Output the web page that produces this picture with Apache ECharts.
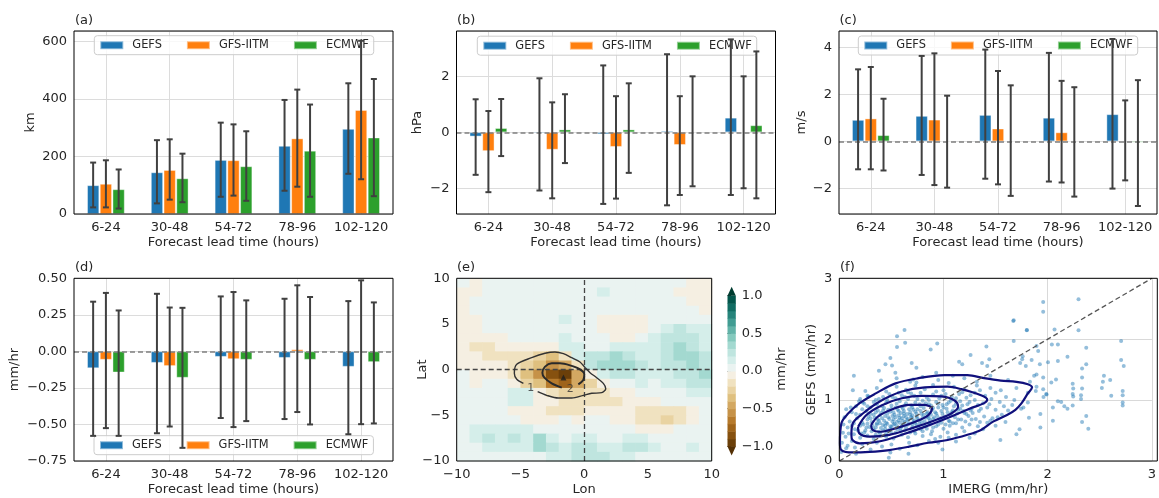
<!DOCTYPE html>
<html>
<head>
<meta charset="utf-8">
<script src="https://cdn.jsdelivr.net/npm/echarts@6/dist/echarts.min.js"></script>
<style>
html, body { margin: 0; padding: 0; background: #fff; }
#chart { width: 1159px; height: 498px; }
</style>
</head>
<body>
<div id="chart"></div>
<script>
//*************************************************************************************************data
var leadTimes = ['6-24', '30-48', '54-72', '78-96', '102-120'];
var models = ['GEFS', 'GFS-IITM', 'ECMWF'];
var modelColors = ['#1f77b4', '#ff7f0e', '#2ca02c'];

// (a) track error, km  (rows: GEFS, GFS-IITM, ECMWF)
var trackMean = [[100, 145, 188, 237, 296], [105, 153, 187, 263, 362], [86, 124, 166, 220, 266]];
var trackLo = [[23, 37, 60, 81, 140], [23, 50, 64, 95, 121], [19, 41, 46, 60, 62]];
var trackHi = [[179, 257, 318, 397, 455], [187, 260, 312, 433, 603], [155, 210, 288, 381, 470]];

// (b) pressure bias, hPa
var presMean = [[-0.15, -0.04, -0.07, 0.05, 0.52], [-0.67, -0.62, -0.52, -0.45, -0.01], [0.15, 0.1, 0.1, 0.02, 0.25]];
var presLo = [[-1.52, -2.08, -2.56, -2.61, -2.24], [-2.14, -2.36, -2.37, -2.24, -2.0], [-0.85, -1.1, -1.45, -1.93, -2.36]];
var presHi = [[1.18, 1.93, 2.39, 2.79, 3.32], [0.76, 1.07, 1.29, 1.29, 2.0], [1.19, 1.36, 1.75, 2.0, 2.89]];

// (c) wind bias, m/s
var windMean = [[0.91, 1.08, 1.12, 1.0, 1.15], [0.97, 0.92, 0.54, 0.38, 0.01], [0.26, 0.01, 0.01, 0.01, -0.05]];
var windLo = [[-1.19, -1.43, -1.59, -1.71, -2.01], [-1.19, -1.86, -1.83, -1.75, -1.66], [-1.24, -1.97, -2.32, -2.35, -2.75]];
var windHi = [[3.06, 3.63, 3.9, 3.76, 4.35], [3.16, 3.74, 2.99, 2.57, 1.74], [1.81, 1.94, 2.38, 2.3, 2.6]];

// (d) rain bias, mm/hr
var rainMean = [[-0.115, -0.078, -0.037, -0.044, -0.105], [-0.057, -0.10, -0.053, 0.014, -0.005], [-0.144, -0.18, -0.057, -0.057, -0.073]];
var rainLo = [[-0.578, -0.56, -0.456, -0.463, -0.567], [-0.525, -0.514, -0.518, -0.415, -0.498], [-0.578, -0.66, -0.477, -0.5, -0.493]];
var rainHi = [[0.34, 0.394, 0.376, 0.36, 0.344], [0.40, 0.30, 0.406, 0.452, 0.486], [0.28, 0.298, 0.349, 0.372, 0.335]];

// (e) composite rain difference, mm/hr, 1 deg cells; rows from lat 9.5 down to -9.5
var cellLon = [-9.5, -8.5, -7.5, -6.5, -5.5, -4.5, -3.5, -2.5, -1.5, -0.5, 0.5, 1.5, 2.5, 3.5, 4.5, 5.5, 6.5, 7.5, 8.5, 9.5];
var cellLat = [9.5, 8.5, 7.5, 6.5, 5.5, 4.5, 3.5, 2.5, 1.5, 0.5, -0.5, -1.5, -2.5, -3.5, -4.5, -5.5, -6.5, -7.5, -8.5, -9.5];
var rainDiff = [
    [0.05, -0.05, 0.05, 0.05, 0.05, 0.05, 0.05, 0.05, 0.05, 0.05, 0.05, 0.05, 0.05, 0.05, 0.05, 0.05, 0.05, 0.05, -0.05, -0.05],
    [-0.05, -0.05, 0.05, 0.05, 0.05, 0.05, 0.05, 0.05, 0.05, 0.05, 0.05, 0.12, 0.05, 0.05, 0.05, 0.05, 0.05, -0.05, -0.05, -0.05],
    [-0.05, 0.05, 0.05, 0.05, 0.05, 0.05, 0.05, 0.05, 0.05, 0.05, 0.05, 0.05, 0.05, 0.05, 0.05, 0.05, 0.05, 0.05, -0.05, -0.05],
    [-0.05, 0.05, 0.05, 0.05, 0.05, 0.05, 0.05, 0.05, 0.05, 0.05, 0.05, 0.05, 0.05, 0.05, 0.05, 0.05, 0.05, 0.05, 0.05, -0.05],
    [-0.05, -0.05, 0.05, 0.05, 0.05, 0.05, 0.05, 0.05, 0.12, 0.05, 0.05, -0.05, -0.05, -0.05, -0.05, 0.05, 0.05, 0.05, 0.05, 0.05],
    [-0.05, -0.05, 0.05, 0.05, 0.05, 0.05, 0.05, 0.05, 0.05, 0.05, 0.05, -0.05, -0.08, -0.08, -0.05, 0.05, 0.15, 0.22, 0.18, 0.15],
    [-0.08, -0.05, -0.05, -0.05, 0.05, 0.05, 0.05, 0.05, 0.12, 0.05, 0.05, 0.05, -0.05, -0.05, 0.05, 0.15, 0.22, 0.22, 0.2, 0.15],
    [-0.08, -0.12, -0.12, -0.08, -0.08, -0.08, -0.05, -0.05, 0.15, 0.15, 0.05, 0.05, 0.15, 0.18, 0.18, 0.18, 0.25, 0.3, 0.22, 0.18],
    [-0.05, -0.08, -0.12, -0.15, -0.15, -0.15, -0.22, -0.32, -0.2, 0.18, 0.2, 0.25, 0.3, 0.25, 0.18, 0.18, 0.22, 0.3, 0.3, 0.22],
    [-0.05, -0.05, -0.08, -0.08, -0.15, -0.25, -0.38, -0.6, -0.5, -0.12, 0.22, 0.3, 0.32, 0.3, 0.22, 0.18, 0.22, 0.25, 0.3, 0.25],
    [0.05, -0.05, -0.05, -0.05, -0.15, -0.32, -0.55, -0.85, -0.98, -0.45, -0.1, 0.15, 0.22, 0.22, 0.18, 0.15, 0.18, 0.22, 0.25, 0.3],
    [0.05, -0.05, 0.05, 0.05, -0.08, -0.22, -0.4, -0.65, -0.75, -0.5, -0.22, -0.1, 0.05, 0.05, 0.1, 0.05, 0.15, 0.18, 0.22, 0.22],
    [0.05, 0.05, 0.05, 0.05, 0.15, 0.15, -0.1, -0.2, -0.28, -0.25, -0.2, -0.15, -0.08, -0.05, 0.05, 0.05, 0.05, 0.05, 0.15, 0.15],
    [0.05, 0.05, 0.05, 0.05, 0.15, 0.12, -0.05, -0.1, -0.15, -0.15, -0.12, -0.12, -0.12, -0.1, -0.08, -0.05, 0.05, 0.05, 0.05, 0.05],
    [0.05, 0.05, 0.05, 0.05, -0.05, -0.08, -0.1, -0.12, -0.12, -0.12, -0.08, -0.05, -0.05, -0.08, -0.12, -0.15, -0.18, -0.12, -0.05, 0.05],
    [0.05, 0.05, 0.05, 0.05, 0.05, -0.05, -0.05, -0.05, 0.05, -0.05, 0.05, 0.05, -0.05, -0.08, -0.12, -0.18, -0.25, -0.15, -0.05, 0.05],
    [0.05, 0.12, 0.15, 0.15, 0.12, 0.12, 0.05, 0.05, 0.05, 0.05, 0.05, 0.05, 0.05, 0.05, -0.05, -0.05, -0.05, 0.05, 0.05, 0.05],
    [0.05, 0.15, 0.2, 0.15, 0.2, 0.15, 0.3, 0.15, 0.05, 0.15, 0.15, 0.05, 0.05, 0.15, 0.15, 0.05, 0.05, 0.05, 0.05, 0.05],
    [0.05, 0.05, 0.15, 0.15, 0.15, 0.15, 0.3, 0.2, 0.15, 0.2, 0.2, 0.15, 0.15, 0.2, 0.2, 0.15, 0.05, 0.05, 0.15, 0.05],
    [0.05, 0.05, 0.05, 0.05, 0.05, 0.05, 0.05, 0.15, 0.15, 0.2, 0.25, 0.2, 0.15, 0.15, 0.05, 0.05, 0.05, 0.05, 0.05, 0.05]
];
// IMERG rain contours (lon, lat)
var imergContour1 = [[-3.65, -2.41], [-2.94, -2.81], [-2.03, -3.10], [-0.98, -3.10], [-0.07, -2.81], [0.59, -2.59], [1.37, -2.52], [1.69, -2.08],
    [1.50, -1.50], [0.98, -0.88], [0.46, -0.33], [0.07, 0.22], [-0.33, 0.84], [-0.98, 1.31], [-1.63, 1.75], [-2.29, 1.93], [-3.07, 1.79],
    [-4.12, 1.31], [-5.29, 0.58], [-5.48, -0.40], [-5.29, -1.06], [-4.77, -1.50]];
var imergContour2 = [[-1.76, -1.97], [-2.55, -1.50], [-3.12, -0.88], [-3.28, -0.33], [-3.07, 0.33], [-2.55, 0.69], [-1.90, 0.69], [-1.11, 0.47],
    [-0.33, 0.04], [0.01, -0.51], [-0.07, -1.13], [-0.46, -1.61]];
var contourLabels = [[-4.2, -1.98, '1'], [-1.1, -2.1, '2']];
var colorLevels = [-1, -0.9, -0.8, -0.7, -0.6, -0.5, -0.4, -0.3, -0.2, -0.1, 0, 0.1, 0.2, 0.3, 0.4, 0.5, 0.6, 0.7, 0.8, 0.9, 1];
var levelColors = ['#6b3f09', '#86510f', '#9f641a', '#b67a2c', '#c69248', '#d3a862', '#dfc07f', '#e9d3a2', '#f0e2c0', '#f5efe2',
    '#eaf3f1', '#d5eeea', '#bfe5df', '#a3d9d0', '#84c9bd', '#62b3a8', '#419c92', '#26847b', '#116d63', '#03564b'];
var extendColors = ['#543005', '#003c30'];

// (f) IMERG vs GEFS rain rate, mm/hr
var scatterCore = [
    [0.08,0.25],[0.15,0.22],[0.22,0.28],[0.3,0.19],[0.41,0.24],[0.5,0.27],[0.58,0.2],[0.67,0.3],[0.75,0.26],[0.86,0.33],[0.95,0.3],[1.05,0.38],[1.12,0.32],[0.36,0.3],[0.12,0.33],
    [0.06,0.4],[0.14,0.44],[0.2,0.38],[0.27,0.42],[0.33,0.36],[0.39,0.45],[0.45,0.4],[0.52,0.37],[0.6,0.43],[0.66,0.39],[0.73,0.45],[0.8,0.41],[0.88,0.44],[0.97,0.4],[1.04,0.47],[1.12,0.43],[1.2,0.49],[1.3,0.45],[1.38,0.52],[0.24,0.47],[0.5,0.46],[0.92,0.36],[1.25,0.38],
    [0.08,0.55],[0.15,0.52],[0.2,0.58],[0.25,0.5],[0.29,0.56],[0.33,0.52],[0.36,0.6],[0.4,0.54],[0.44,0.58],[0.47,0.5],[0.5,0.56],[0.53,0.61],[0.56,0.52],[0.6,0.57],[0.63,0.5],[0.66,0.6],[0.7,0.55],[0.74,0.59],[0.78,0.52],[0.82,0.57],[0.86,0.62],[0.9,0.55],[0.95,0.6],[1.0,0.53],[1.06,0.58],[1.12,0.62],[1.18,0.55],[1.25,0.6],[1.33,0.57],[1.42,0.63],[1.5,0.58],[0.38,0.48],[0.58,0.63],[0.72,0.49],
    [0.1,0.65],[0.17,0.7],[0.22,0.63],[0.27,0.68],[0.31,0.64],[0.34,0.71],[0.38,0.66],[0.41,0.7],[0.45,0.63],[0.48,0.69],[0.51,0.65],[0.54,0.72],[0.57,0.67],[0.6,0.7],[0.63,0.64],[0.66,0.69],[0.69,0.72],[0.72,0.66],[0.75,0.7],[0.79,0.64],[0.83,0.71],[0.87,0.67],[0.91,0.72],[0.96,0.66],[1.01,0.7],[1.06,0.65],[1.11,0.72],[1.17,0.68],[1.24,0.74],[1.31,0.69],[1.39,0.73],[1.47,0.7],[1.56,0.76],[0.44,0.74],[0.62,0.74],[0.36,0.62],[0.52,0.6],
    [0.12,0.8],[0.2,0.76],[0.26,0.82],[0.3,0.77],[0.35,0.8],[0.39,0.75],[0.42,0.83],[0.46,0.78],[0.49,0.81],[0.53,0.76],[0.56,0.84],[0.59,0.79],[0.62,0.82],[0.65,0.77],[0.68,0.8],[0.71,0.84],[0.74,0.78],[0.78,0.82],[0.81,0.76],[0.85,0.8],[0.89,0.84],[0.93,0.78],[0.98,0.82],[1.03,0.86],[1.08,0.8],[1.14,0.84],[1.2,0.79],[1.27,0.86],[1.34,0.82],[1.42,0.88],[1.5,0.84],[1.58,0.9],[0.5,0.86],[0.7,0.75],[0.95,0.88],
    [0.16,0.9],[0.24,0.94],[0.3,0.88],[0.36,0.93],[0.41,0.9],[0.45,0.96],[0.5,0.91],[0.55,0.94],[0.6,0.89],[0.64,0.95],[0.69,0.91],[0.73,0.96],[0.78,0.9],[0.83,0.95],[0.88,0.91],[0.93,0.97],[0.99,0.92],[1.05,0.96],[1.1,0.9],[1.16,0.98],[1.23,0.93],[1.3,1.0],[1.38,0.95],[1.46,1.02],[1.54,0.97],[0.58,0.98],[0.8,0.99],
    [0.2,1.02],[0.28,1.06],[0.35,1.0],[0.42,1.05],[0.48,1.1],[0.54,1.03],[0.6,1.08],[0.66,1.02],[0.72,1.07],[0.78,1.12],[0.84,1.04],[0.9,1.09],[0.96,1.03],[1.02,1.1],[1.08,1.05],[1.15,1.1],[1.22,1.04],[1.3,1.12],[1.4,1.07],[1.5,1.12],[1.6,1.05],[1.68,1.0],[0.66,1.13],
    [0.25,1.15],[0.36,1.2],[0.45,1.14],[0.55,1.22],[0.64,1.17],[0.73,1.24],[0.82,1.18],[0.9,1.25],[1.0,1.16],[1.1,1.22],[1.2,1.18],[1.32,1.24],[1.45,1.2],[1.55,1.16],[1.7,1.2],
    [0.4,1.32],[0.55,1.36],[0.68,1.3],[0.8,1.38],[0.95,1.33],[1.05,1.28],[1.2,1.36],[1.32,1.3],[1.45,1.4],[1.62,1.33]
];
var scatterDense = [
    [0.23,0.6],[0.27,0.61],[0.32,0.58],[0.35,0.55],[0.37,0.68],[0.39,0.62],[0.43,0.66],[0.46,0.61],[0.47,0.72],[0.49,0.57],
    [0.51,0.74],[0.52,0.68],[0.55,0.64],[0.55,0.58],[0.57,0.75],[0.58,0.71],[0.61,0.66],[0.61,0.6],[0.62,0.78],[0.64,0.72],
    [0.65,0.67],[0.67,0.62],[0.68,0.76],[0.7,0.7],[0.71,0.64],[0.73,0.81],[0.74,0.73],[0.76,0.67],[0.77,0.61],[0.79,0.77],
    [0.8,0.71],[0.82,0.65],[0.84,0.78],[0.85,0.73],[0.87,0.6],[0.88,0.76],[0.9,0.69],[0.92,0.8],[0.94,0.74],[0.97,0.7],
    [0.99,0.77],[1.02,0.73],[1.04,0.8],[1.07,0.76],[1.09,0.83],[1.13,0.78],[1.16,0.86],[1.19,0.82],[1.22,0.77],[1.26,0.83],
    [0.28,0.73],[0.3,0.7],[0.33,0.76],[0.37,0.83],[0.4,0.79],[0.43,0.87],[0.47,0.84],[0.52,0.8],[0.54,0.88],[0.57,0.82],
    [0.61,0.86],[0.63,0.91],[0.67,0.85],[0.7,0.88],[0.75,0.85],[0.77,0.93],[0.81,0.87],[0.86,0.93],[0.9,0.87],[0.95,0.94],
    [1.0,0.88],[1.03,0.93],[1.07,0.99],[1.12,0.94],[1.18,0.91],[1.25,0.97],[1.33,0.92],[1.36,0.86],[1.44,0.93],[1.28,0.79],
    [0.18,0.5],[0.21,0.45],[0.26,0.55],[0.31,0.49],[0.35,0.43],[0.42,0.5],[0.45,0.45],[0.49,0.52],[0.54,0.47],[0.59,0.5],
    [0.64,0.55],[0.68,0.47],[0.7,0.6],[0.76,0.55],[0.8,0.49],[0.84,0.53],[0.89,0.49],[0.93,0.57],[0.98,0.63],[1.02,0.6],
    [1.05,0.66],[1.09,0.62],[1.14,0.68],[1.21,0.65],[1.27,0.68],[1.35,0.64],[1.45,0.66],[1.52,0.72],[1.62,0.83],[1.66,0.92],
    [0.12,0.58],[0.14,0.62],[0.16,0.77],[0.22,0.85],[0.27,0.9],[0.33,0.97],[0.38,1.02],[0.46,1.0],[0.51,1.05],[0.57,1.12],
    [0.63,1.05],[0.69,1.11],[0.75,1.02],[0.86,1.0],[0.93,1.14],[0.98,1.07],[1.12,1.03],[1.18,1.13],[1.26,1.08],[1.35,1.16],
    [0.09,0.45],[0.04,0.6],[0.05,0.72],[0.11,0.88],[0.19,0.98],[0.42,0.59],[0.44,0.53],[0.59,0.55],[0.73,0.63],[0.86,0.7]
];
var scatterSparse = [
    [1.957,2.61],[1.957,2.45],[2.296,2.655],[1.674,2.31],[1.80,2.146],[2.296,2.146],[2.066,2.16],[1.674,1.97],[2.04,1.915],[2.098,1.915],
    [2.37,1.86],[2.705,1.97],[1.909,1.806],[2.19,1.71],[2.098,1.64],[1.76,1.72],[2.37,1.59],[2.33,1.52],[2.705,1.66],[2.73,1.56],
    [1.925,1.59],[2.003,1.62],[1.893,1.42],[1.957,1.37],[2.035,1.29],[2.08,1.34],[2.33,1.37],[2.54,1.40],[2.60,1.33],[2.53,1.30],
    [2.52,1.20],[2.61,1.07],[2.24,1.27],[2.245,1.19],[2.24,1.10],[2.245,1.06],[2.33,1.19],[2.32,1.08],[2.32,1.02],[2.72,1.15],
    [2.72,1.08],[2.72,0.96],[2.72,0.91],[2.37,0.74],[2.33,0.64],[2.39,0.53],[2.098,0.98],[2.13,0.97],[2.19,0.86],[2.16,0.90],
    [2.24,0.91],[2.05,0.66],[1.93,0.77],[1.93,0.55],[1.99,1.09],[1.986,1.10],[1.957,1.18],[1.893,1.22],[1.886,1.15],[1.83,1.30],
    [1.81,1.12],[1.81,0.96],[1.767,0.88],[1.745,0.86],[1.73,0.52],[1.70,0.44],[1.546,0.345],[1.595,0.64],[1.82,0.71],[1.87,1.40],
    [1.79,1.56],[1.736,1.61],[1.755,1.67],[1.846,1.66],[1.893,1.89],[2.05,0.88],[1.96,1.05],
    [0.626,2.15],[0.554,2.05],[0.554,1.87],[0.632,1.94],[0.877,1.83],[0.94,1.93],[1.26,1.74],[1.412,1.88],[1.15,1.63],[1.18,1.59],
    [0.93,1.45],[0.74,1.53],[0.695,1.61],[0.49,1.69],[0.443,1.59],[0.38,1.48],[0.538,1.45],[0.506,1.57],[0.14,1.40],[0.13,1.16],
    [0.27,1.07],[0.224,0.96],[0.066,0.85],[0.035,0.465],[0.025,0.30],[0.066,0.21],[0.019,0.148],[0.16,0.12],[0.475,0.055],[0.49,0.14],
    [0.664,0.12],[0.99,0.19],[0.74,1.29],[1.09,1.40],[0.71,1.34],[1.37,1.61],[1.44,1.67],[1.42,1.56],[1.80,2.15],[1.67,2.30]
];
var kdeLevel1 = [[0.006,0.29],[0.02,0.62],[0.085,0.78],[0.195,0.95],[0.35,1.11],[0.54,1.275],[0.76,1.36],[1.01,1.41],[1.23,1.41],[1.39,1.36],
    [1.55,1.32],[1.70,1.30],[1.81,1.26],[1.85,1.21],[1.81,1.11],[1.75,0.95],[1.69,0.84],[1.61,0.755],[1.48,0.65],[1.36,0.51],[1.23,0.43],
    [1.04,0.345],[0.855,0.30],[0.67,0.235],[0.48,0.18],[0.29,0.15],[0.13,0.14],[0.02,0.18],[0.006,0.29]];
var kdeLevel2 = [[0.116,0.427],[0.13,0.62],[0.226,0.78],[0.38,0.97],[0.60,1.14],[0.82,1.21],[1.04,1.22],[1.17,1.18],[1.36,1.08],[1.42,1.01],
    [1.39,0.95],[1.26,0.865],[1.075,0.73],[0.82,0.56],[0.60,0.43],[0.38,0.32],[0.195,0.29],[0.126,0.345],[0.116,0.427]];
var kdeLevel3 = [[0.18,0.56],[0.26,0.755],[0.415,0.92],[0.60,1.03],[0.79,1.07],[0.98,1.06],[1.11,0.99],[1.14,0.89],[1.075,0.78],[0.92,0.67],
    [0.70,0.54],[0.48,0.43],[0.29,0.40],[0.195,0.45],[0.18,0.56]];
var kdeLevel4 = [[0.305,0.59],[0.37,0.73],[0.51,0.85],[0.67,0.92],[0.81,0.92],[0.89,0.865],[0.855,0.755],[0.73,0.645],[0.54,0.536],[0.38,0.48],
    [0.32,0.51],[0.305,0.59]];
var oneToOne = [[0, 0], [3, 3]];

//*************************************************************************************************layout
var FONT = 'DejaVu Sans';
var TXT = '#262626';
var GRIDC = '#dcdcdc';
var grids = [
    {left: 74, top: 31, width: 319, height: 183},
    {left: 456.5, top: 31, width: 319, height: 183},
    {left: 839, top: 31, width: 318, height: 183},
    {left: 74, top: 278.3, width: 319, height: 182.7},
    {left: 456.7, top: 278.3, width: 255, height: 182.7},
    {left: 839.3, top: 278.3, width: 318, height: 182.7},
    {left: 727.5, top: 295.7, width: 8.3, height: 150.7}
];

function minus(s) {
    return String(s).replace('-', '\u2212');
}

function tickFmt(step, dec) {
    return function (v) {
        if (Math.abs(v / step - Math.round(v / step)) > 1e-6) return '';
        return minus(dec == null ? String(Math.round(v * 1000) / 1000) : v.toFixed(dec));
    };
}

function labelStyle(extra) {
    var s = {color: TXT, fontSize: 13, fontFamily: FONT, margin: 7};
    for (var k in extra) s[k] = extra[k];
    return s;
}

function catAxis(gi) {
    return {type: 'category', gridIndex: gi, data: leadTimes, axisLine: {show: false}, axisTick: {show: false},
        axisLabel: labelStyle({interval: 0}), splitLine: {show: false}};
}

function valAxis(gi, min, max, step, dec, opts) {
    var ax = {type: 'value', gridIndex: gi, min: min, max: max, axisLine: {show: false}, axisTick: {show: false},
        axisLabel: labelStyle({formatter: tickFmt(step, dec)}),
        splitLine: {show: true, lineStyle: {color: GRIDC, width: 1}}};
    for (var k in opts) ax[k] = opts[k];
    return ax;
}

function errItem(k) {
    return function (params, api) {
        var c = api.value(0);
        var band = api.coord([1, 0])[0] - api.coord([0, 0])[0];
        var x = api.coord([c, 0])[0] + (k - 1) * band * 0.2;
        var y1 = api.coord([c, api.value(1)])[1];
        var y2 = api.coord([c, api.value(2)])[1];
        var st = {stroke: '#404040', lineWidth: 2};
        return {type: 'group', children: [
            {type: 'line', shape: {x1: x, y1: y1, x2: x, y2: y2}, style: st},
            {type: 'line', shape: {x1: x - 3, y1: y1, x2: x + 3, y2: y1}, style: st},
            {type: 'line', shape: {x1: x - 3, y1: y2, x2: x + 3, y2: y2}, style: st}
        ]};
    };
}

var xAxes = [];
var yAxes = [];
var series = [];
var legends = [];

// bar panels a-d
var barPanels = [
    {mean: trackMean, lo: trackLo, hi: trackHi, min: 0, max: 637, split: 3, step: 200, zero: false, legendTop: 35.7, legendLeft: 94.3},
    {mean: presMean, lo: presLo, hi: presHi, min: -2.92, max: 3.62, split: 3, step: 2, zero: true, legendTop: 36.2, legendLeft: 477.3},
    {mean: windMean, lo: windLo, hi: windHi, min: -3.09, max: 4.69, split: 4, step: 2, zero: true, legendTop: 36, legendLeft: 858.3},
    {mean: rainMean, lo: rainLo, hi: rainHi, min: -0.75, max: 0.5, interval: 0.25, step: 0.25, dec: 2, zero: true, legendTop: 435.7, legendLeft: 94}
];

barPanels.forEach(function (p, gi) {
    xAxes.push(catAxis(gi));
    var opts = p.interval ? {interval: p.interval} : {splitNumber: p.split};
    yAxes.push(valAxis(gi, p.min, p.max, p.step, p.dec, opts));
    // vertical grid lines at category centres
    series.push({type: 'line', name: 'vgrid' + gi, xAxisIndex: gi, yAxisIndex: gi, data: [], z: 1, silent: true,
        markLine: {silent: true, symbol: 'none', label: {show: false}, animation: false, z: 1,
            lineStyle: {color: GRIDC, type: 'solid', width: 1},
            data: leadTimes.map(function (c) { return {xAxis: c}; })}});
    for (var k = 0; k < 3; k++) {
        series.push({type: 'bar', name: models[k], xAxisIndex: gi, yAxisIndex: gi, data: p.mean[k],
            barWidth: '19%', barGap: '5%', z: 2,
            itemStyle: {color: modelColors[k], borderColor: 'rgba(255,255,255,0.5)', borderWidth: 0.8}});
    }
    if (p.zero) {
        series.push({type: 'line', name: 'zero' + gi, xAxisIndex: gi, yAxisIndex: gi, data: [], z: 3, silent: true,
            markLine: {silent: true, symbol: 'none', label: {show: false}, animation: false, z: 3,
                lineStyle: {color: '#7f7f7f', type: [5, 3], width: 1.5},
                data: [{yAxis: 0}]}});
    }
    for (var k2 = 0; k2 < 3; k2++) {
        var lo = p.lo[k2], hi = p.hi[k2];
        series.push({type: 'custom', name: 'err' + gi + k2, xAxisIndex: gi, yAxisIndex: gi, z: 4, silent: true,
            renderItem: errItem(k2), encode: {x: 0, y: [1, 2]},
            data: lo.map(function (l, i) { return [i, l, hi[i]]; })});
    }
    legends.push({data: models, left: p.legendLeft, top: p.legendTop, orient: 'horizontal', icon: 'rect',
        itemWidth: 23, itemHeight: 8, itemGap: 24, padding: [4, 5, 4, 5], selectedMode: false,
        backgroundColor: 'rgba(255,255,255,0.8)', borderColor: '#cccccc', borderWidth: 1, borderRadius: 3,
        textStyle: {fontFamily: FONT, fontSize: 11.4, color: TXT, padding: [0, 0, 0, 4]}});
});

// panel e
xAxes.push(valAxis(4, -10, 10, 5, null, {interval: 5, splitLine: {show: false}}));
yAxes.push(valAxis(4, -10, 10, 5, null, {interval: 5, splitLine: {show: false}}));

function levelColor(v) {
    if (v < colorLevels[0]) return extendColors[0];
    if (v >= colorLevels[colorLevels.length - 1]) return extendColors[1];
    for (var i = 0; i < levelColors.length; i++) {
        if (v >= colorLevels[i] && v < colorLevels[i + 1]) return levelColors[i];
    }
    return levelColors[levelColors.length - 1];
}

var cellData = [];
rainDiff.forEach(function (row, r) {
    row.forEach(function (v, c) { cellData.push([cellLon[c], cellLat[r], v]); });
});
series.push({type: 'custom', name: 'diff', xAxisIndex: 4, yAxisIndex: 4, z: 1, silent: true, data: cellData,
    encode: {x: 0, y: 1},
    renderItem: function (params, api) {
        var lon = api.value(0), lat = api.value(1);
        var p0 = api.coord([lon - 0.5, lat + 0.5]);
        var p1 = api.coord([lon + 0.5, lat - 0.5]);
        return {type: 'rect', shape: {x: p0[0], y: p0[1], width: p1[0] - p0[0] + 0.6, height: p1[1] - p0[1] + 0.6},
            style: {fill: levelColor(api.value(2))}};
    }});
series.push({type: 'line', name: 'c1', xAxisIndex: 4, yAxisIndex: 4, data: imergContour1, showSymbol: false, smooth: 0.3, z: 3,
    lineStyle: {color: '#333333', width: 1.4}, silent: true,
    markLine: {silent: true, symbol: 'none', label: {show: false}, animation: false, z: 3,
        lineStyle: {color: '#454545', type: [5, 3], width: 1.3},
        data: [{xAxis: 0}, {yAxis: 0}]}});
series.push({type: 'line', name: 'c2', xAxisIndex: 4, yAxisIndex: 4, data: imergContour2, showSymbol: false, smooth: 0.3, z: 3,
    lineStyle: {color: '#2a2a2a', width: 2}, silent: true});
series.push({type: 'scatter', name: 'clab', xAxisIndex: 4, yAxisIndex: 4, data: contourLabels, symbolSize: 0, z: 4, silent: true,
    label: {show: true, position: 'inside', color: '#333', fontSize: 11, fontFamily: FONT,
        formatter: function (p) { return p.value[2]; }}});
series.push({type: 'scatter', name: 'core', xAxisIndex: 4, yAxisIndex: 4, data: [[-1.63, -0.85]], symbol: 'triangle',
    symbolSize: 6, z: 4, silent: true, itemStyle: {color: '#1e1e1e'}});

// panel f
xAxes.push(valAxis(5, 0, 3, 1, null, {interval: 1, splitLine: {show: true, lineStyle: {color: '#d9d9d9', width: 1}}}));
yAxes.push(valAxis(5, 0, 3, 1, null, {interval: 1, splitLine: {show: true, lineStyle: {color: '#d9d9d9', width: 1}}}));
series.push({type: 'scatter', name: 'pts', xAxisIndex: 5, yAxisIndex: 5, data: scatterCore.concat(scatterDense, scatterSparse),
    symbolSize: 4, z: 2, silent: true, itemStyle: {color: 'rgba(31,119,180,0.6)'}});
[kdeLevel1, kdeLevel2, kdeLevel3, kdeLevel4].forEach(function (lv, i) {
    series.push({type: 'line', name: 'kde' + i, xAxisIndex: 5, yAxisIndex: 5, data: lv, showSymbol: false, smooth: 0.35,
        z: 3, silent: true, lineStyle: {color: '#10107c', width: 2.2}});
});
series.push({type: 'line', name: 'one', xAxisIndex: 5, yAxisIndex: 5, data: oneToOne, showSymbol: false, z: 4, silent: true,
    lineStyle: {color: '#555555', type: [5, 3], width: 1.3}});

// colorbar
xAxes.push({type: 'value', gridIndex: 6, min: 0, max: 1, show: false});
yAxes.push({type: 'value', gridIndex: 6, min: -1, max: 1, interval: 0.5, position: 'right',
    axisLine: {show: false}, splitLine: {show: false},
    axisTick: {show: true, length: 3.5, lineStyle: {color: TXT}},
    axisLabel: labelStyle({margin: 6, formatter: function (v) { return minus(v.toFixed(1)); }})});
var bandData = levelColors.map(function (c, i) { return [colorLevels[i], colorLevels[i + 1], i]; });
series.push({type: 'custom', name: 'cbar', xAxisIndex: 6, yAxisIndex: 6, data: bandData, z: 2, silent: true,
    encode: {y: [0, 1]},
    renderItem: function (params, api) {
        var p0 = api.coord([0, api.value(1)]);
        var p1 = api.coord([1, api.value(0)]);
        var i = api.value(2);
        var children = [{type: 'rect', shape: {x: p0[0], y: p0[1], width: p1[0] - p0[0], height: p1[1] - p0[1] + 0.5},
            style: {fill: levelColors[i]}}];
        if (i === 0) {
            children.push({type: 'polygon', shape: {points: [[p0[0], p1[1]], [p1[0], p1[1]], [(p0[0] + p1[0]) / 2, p1[1] + 9]]},
                style: {fill: extendColors[0]}});
        }
        if (i === levelColors.length - 1) {
            children.push({type: 'polygon', shape: {points: [[p0[0], p0[1]], [p1[0], p0[1]], [(p0[0] + p1[0]) / 2, p0[1] - 9]]},
                style: {fill: extendColors[1]}});
        }
        return {type: 'group', children: children};
    }});

//*************************************************************************************************texts and frames
function txt(s, x, y, rot, align) {
    return {type: 'text', x: x, y: y, rotation: rot || 0, silent: true, z: 100,
        style: {text: s, fill: TXT, font: '13px "DejaVu Sans"', align: align || 'center', verticalAlign: 'middle'}};
}
var graphics = [
    txt('(a)', 75, 21, 0, 'left'), txt('(b)', 457, 21, 0, 'left'), txt('(c)', 839.5, 21, 0, 'left'),
    txt('(d)', 75, 268, 0, 'left'), txt('(e)', 457, 268, 0, 'left'), txt('(f)', 840, 268, 0, 'left'),
    txt('km', 31, 122.5, Math.PI / 2), txt('hPa', 418, 122.5, Math.PI / 2), txt('m/s', 801.7, 122.5, Math.PI / 2),
    txt('mm/hr', 15, 369.6, Math.PI / 2), txt('Lat', 423, 369.6, Math.PI / 2), txt('GEFS (mm/hr)', 811.7, 369.6, Math.PI / 2),
    txt('mm/hr', 781.7, 369, Math.PI / 2),
    txt('Forecast lead time (hours)', 233.5, 243), txt('Forecast lead time (hours)', 616, 243), txt('Forecast lead time (hours)', 998, 243),
    txt('Forecast lead time (hours)', 233.5, 490), txt('Lon', 584.2, 490), txt('IMERG (mm/hr)', 998.3, 490)
];
for (var g = 0; g < 6; g++) {
    var gr = grids[g];
    graphics.push({type: 'rect', silent: true, z: 90,
        shape: {x: gr.left, y: gr.top, width: gr.width, height: gr.height},
        style: {fill: 'none', stroke: '#000', lineWidth: 1}});
}

var chart = echarts.init(document.getElementById('chart'));
chart.setOption({
    animation: false,
    textStyle: {fontFamily: FONT},
    grid: grids.map(function (gr) { return {left: gr.left, top: gr.top, width: gr.width, height: gr.height, containLabel: false}; }),
    xAxis: xAxes,
    yAxis: yAxes,
    legend: legends,
    series: series,
    graphic: graphics
});
</script>
</body>
</html>
